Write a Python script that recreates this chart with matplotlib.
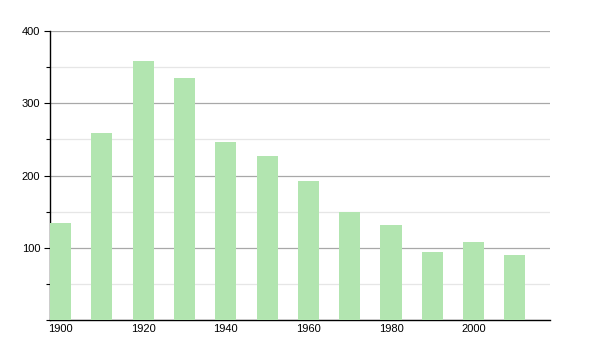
import matplotlib
matplotlib.use("Agg")
import matplotlib.pyplot as plt
from matplotlib.ticker import MultipleLocator

plt.rcParams['font.family'] = ['Liberation Sans', 'DejaVu Sans']

years = [1900, 1910, 1920, 1930, 1940, 1950, 1960, 1970, 1980, 1990, 2000, 2010]
values = [134, 259, 358, 335, 246, 227, 192, 149, 131, 94, 108, 90]
xtick_labels = [1900, 1920, 1940, 1960, 1980, 2000]
ytick_labels = [100, 200, 300, 400]

fig = plt.figure(figsize=(6, 3.5), dpi=100)
ax = fig.add_axes([50/600, 30/350, 500/600, 289/350])

ax.bar(years, values, width=5.1, color="#b2e5b0", zorder=3)

ax.set_xlim(1897.45, 2018.5)
ax.set_ylim(0, 400)
ax.set_xticks(xtick_labels)
ax.set_xticklabels([str(v) for v in xtick_labels])
ax.set_yticks(ytick_labels)
ax.set_yticklabels([str(v) for v in ytick_labels])
ax.yaxis.set_minor_locator(MultipleLocator(50))

ax.grid(axis="y", which="major", color="#a8a8a8", linewidth=0.9, zorder=0)
ax.grid(axis="y", which="minor", color="#e6e6e6", linewidth=0.9, zorder=0)

for s in ["top", "right"]:
    ax.spines[s].set_visible(False)
ax.spines["left"].set_color("black")
ax.spines["bottom"].set_color("black")
ax.spines["left"].set_linewidth(1.0)
ax.spines["bottom"].set_linewidth(1.0)

ax.tick_params(axis="y", which="major", length=4, width=0.8, labelsize=8, pad=3)
ax.tick_params(axis="y", which="minor", length=3, width=0.8)
ax.tick_params(axis="x", length=0, labelsize=8, pad=3)

fig.savefig("out.png", dpi=100)
